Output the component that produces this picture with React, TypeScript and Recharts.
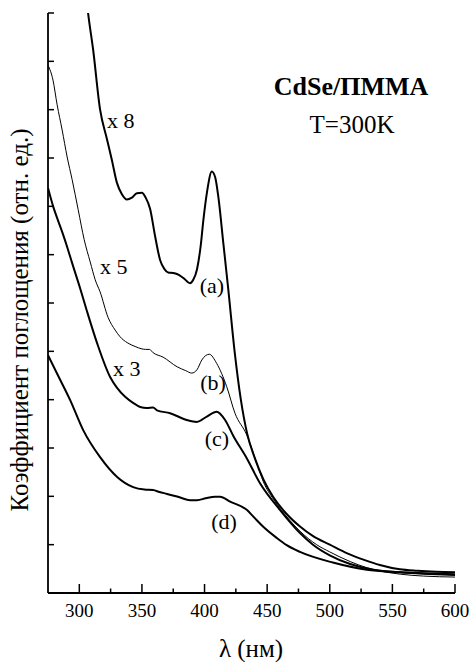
import React from 'react';
import { LineChart, Line, XAxis, YAxis } from 'recharts';

// Curve (a), x 8
const aLambda = [303, 307, 311, 316.6, 322, 326, 330, 334, 338, 342, 346, 350, 353, 356.5, 360.6, 364.5, 368, 371, 375, 378, 383, 388.4, 391, 394, 397, 399, 402, 405.8, 408.5, 411, 415, 419, 424, 429, 434, 440, 447, 455, 465, 476, 487, 500, 514, 528, 540, 556, 570, 585, 600];
const aValue = [13.0, 12.0, 11.25, 10.0, 9.4, 8.96, 8.49, 8.25, 8.14, 8.18, 8.27, 8.28, 8.18, 7.95, 7.37, 6.89, 6.7, 6.63, 6.62, 6.6, 6.52, 6.41, 6.48, 6.7, 7.2, 7.7, 8.3, 8.72, 8.6, 8.2, 7.24, 6.27, 5.0, 4.0, 3.3, 2.8, 2.35, 1.98, 1.65, 1.38, 1.17, 1.0, 0.82, 0.68, 0.58, 0.49, 0.46, 0.44, 0.43];

// Curve (b), x 5
const bLambda = [275, 279, 282.3, 286.3, 290.3, 294.3, 299.1, 303.9, 308.7, 312.7, 316.6, 323, 328.6, 332.6, 338.2, 344.6, 350, 353, 356, 359, 366.9, 378.1, 385, 389.8, 394, 397.8, 403.8, 409.7, 417.7, 424.3, 433.7, 441.7, 447, 455, 468.2, 476.2, 489.5, 500, 516.3, 530, 556.2, 575, 600];
const bValue = [10.92, 10.61, 10.1, 9.58, 9.02, 8.55, 7.93, 7.31, 6.85, 6.48, 6.23, 5.7, 5.44, 5.3, 5.18, 5.1, 5.05, 5.04, 5.04, 4.97, 4.88, 4.68, 4.6, 4.55, 4.62, 4.82, 4.94, 4.75, 4.27, 3.72, 3.27, 2.69, 2.3, 1.94, 1.5, 1.28, 1.0, 0.85, 0.65, 0.52, 0.39, 0.35, 0.33];

// Curve (c), x 3
const cLambda = [275, 279.1, 283.4, 287, 290.3, 294.1, 300.7, 306, 314.2, 324.6, 330, 336.6, 343.2, 348.6, 354, 358.9, 362, 372.5, 385.8, 393.8, 401.8, 409.7, 416.4, 423, 433.7, 444.3, 460.2, 476.2, 486.6, 500, 516.3, 535, 556.2, 575, 600];
const cValue = [8.38, 8.0, 7.68, 7.42, 7.16, 6.84, 6.3, 5.84, 5.17, 4.47, 4.25, 4.06, 3.93, 3.85, 3.83, 3.84, 3.78, 3.72, 3.58, 3.54, 3.65, 3.75, 3.58, 3.25, 2.79, 2.27, 1.72, 1.24, 1.0, 0.78, 0.6, 0.48, 0.43, 0.41, 0.39];

// Curve (d)
const dLambda = [275, 283, 292.7, 303.1, 316.6, 330.2, 343, 352, 358.9, 364, 370.1, 380, 388.4, 394, 401, 408.4, 412.4, 420.4, 433.7, 439, 446.9, 457.6, 465.6, 476.2, 502.5, 529.6, 556, 575, 600];
const dValue = [4.92, 4.5, 3.99, 3.37, 2.81, 2.4, 2.19, 2.14, 2.13, 2.09, 2.05, 1.98, 1.92, 1.92, 1.96, 1.99, 1.99, 1.89, 1.72, 1.58, 1.37, 1.14, 0.99, 0.85, 0.63, 0.48, 0.43, 0.4, 0.37];

const xTicks = [300, 325, 350, 375, 400, 425, 450, 475, 500, 525, 550, 575, 600];
const xLabelTicks = [300, 350, 400, 450, 500, 550, 600];
const yTicks = [0, 1, 2, 3, 4, 5, 6, 7, 8, 9, 10, 11, 12];

const toPoints = (xs: number[], ys: number[]) => xs.map((x, i) => ({ x, y: ys[i] }));

const FONT = "'Liberation Serif', 'Times New Roman', Times, serif";
const serif = { fontFamily: FONT };

const BottomTick = (props: any) => {
  const { x, y, payload } = props;
  const major = xLabelTicks.includes(payload.value);
  return (
    <g>
      <line x1={x} x2={x} y1={y} y2={y - (major ? 9 : 4.5)} stroke="#000" strokeWidth={1.5} />
      {major && (
        <text x={x} y={y + 24} textAnchor="middle" style={serif} fontSize={19} fill="#000">
          {payload.value}
        </text>
      )}
    </g>
  );
};

const TopTick = (props: any) => {
  const { x, y, payload } = props;
  const major = xLabelTicks.includes(payload.value);
  return <line x1={x} x2={x} y1={y} y2={y + (major ? 6 : 3.5)} stroke="#000" strokeWidth={1.5} />;
};

const LeftTick = (props: any) => {
  const { x, y } = props;
  return <line x1={x} x2={x + 6} y1={y} y2={y} stroke="#000" strokeWidth={1.5} />;
};

const RightTick = (props: any) => {
  const { x, y } = props;
  return <line x1={x} x2={x - 5} y1={y} y2={y} stroke="#000" strokeWidth={1.5} />;
};

export default function App() {
  return (
    <div style={{ position: 'absolute', left: 0, top: 0, width: 470, height: 662, background: '#fff', fontFamily: FONT }}>
      <LineChart width={470} height={662} margin={{ top: 13, right: 15, bottom: 9, left: 8 }} style={serif}>
        <XAxis
          xAxisId="bottom"
          dataKey="x"
          type="number"
          domain={[275, 600]}
          allowDataOverflow
          ticks={xTicks}
          interval={0}
          tickSize={0}
          tickMargin={0}
          tickLine={false}
          tick={<BottomTick />}
          axisLine={{ stroke: '#000', strokeWidth: 1.8 }}
          height={60}
          label={{
            content: () => (
              <text x={251} y={657} textAnchor="middle" style={serif} fontSize={25} fill="#000">
                λ (нм)
              </text>
            ),
          }}
        />
        <XAxis
          xAxisId="top"
          orientation="top"
          dataKey="x"
          type="number"
          domain={[275, 600]}
          allowDataOverflow
          ticks={xTicks}
          interval={0}
          tickSize={0}
          tickMargin={0}
          tickLine={false}
          tick={<TopTick />}
          axisLine={{ stroke: '#000', strokeWidth: 1.5 }}
          height={0}
        />
        <YAxis
          yAxisId="left"
          type="number"
          domain={[0, 12]}
          allowDataOverflow
          ticks={yTicks}
          interval={0}
          tickSize={0}
          tickMargin={0}
          tickLine={false}
          tick={<LeftTick />}
          axisLine={{ stroke: '#000', strokeWidth: 1.8 }}
          width={40}
          label={{
            content: () => (
              <text
                x={28}
                y={320}
                transform="rotate(-90, 28, 320)"
                textAnchor="middle"
                style={serif}
                fontSize={25}
                fill="#000"
              >
                Коэффициент поглощения (отн. ед.)
              </text>
            ),
          }}
        />
        <YAxis
          yAxisId="right"
          orientation="right"
          type="number"
          domain={[0, 12]}
          allowDataOverflow
          ticks={yTicks}
          interval={0}
          tickSize={0}
          tickMargin={0}
          tickLine={false}
          tick={<RightTick />}
          axisLine={{ stroke: '#000', strokeWidth: 1.5 }}
          width={0}
        />
        <Line xAxisId="bottom" yAxisId="left" data={toPoints(aLambda, aValue)} dataKey="y" type="monotone" dot={false} stroke="#000" strokeWidth={2} isAnimationActive={false} />
        <Line xAxisId="bottom" yAxisId="left" data={toPoints(bLambda, bValue)} dataKey="y" type="monotone" dot={false} stroke="#000" strokeWidth={1} isAnimationActive={false} />
        <Line xAxisId="bottom" yAxisId="left" data={toPoints(cLambda, cValue)} dataKey="y" type="monotone" dot={false} stroke="#000" strokeWidth={2} isAnimationActive={false} />
        <Line xAxisId="bottom" yAxisId="left" data={toPoints(dLambda, dValue)} dataKey="y" type="monotone" dot={false} stroke="#000" strokeWidth={2} isAnimationActive={false} />
        <g style={serif} fill="#000">
          <text x={351} y={95} textAnchor="middle" fontSize={26} fontWeight="bold">CdSe/ПММА</text>
          <text x={352} y={133} textAnchor="middle" fontSize={25}>T=300K</text>
          <text x={107} y={128} fontSize={22}>x 8</text>
          <text x={100} y={274} fontSize={22}>x 5</text>
          <text x={113} y={376} fontSize={22}>x 3</text>
          <text x={212} y={293} textAnchor="middle" fontSize={22}>(a)</text>
          <text x={213} y={390} textAnchor="middle" fontSize={22}>(b)</text>
          <text x={217} y={446} textAnchor="middle" fontSize={22}>(c)</text>
          <text x={224} y={529} textAnchor="middle" fontSize={22}>(d)</text>
        </g>
      </LineChart>
    </div>
  );
}
